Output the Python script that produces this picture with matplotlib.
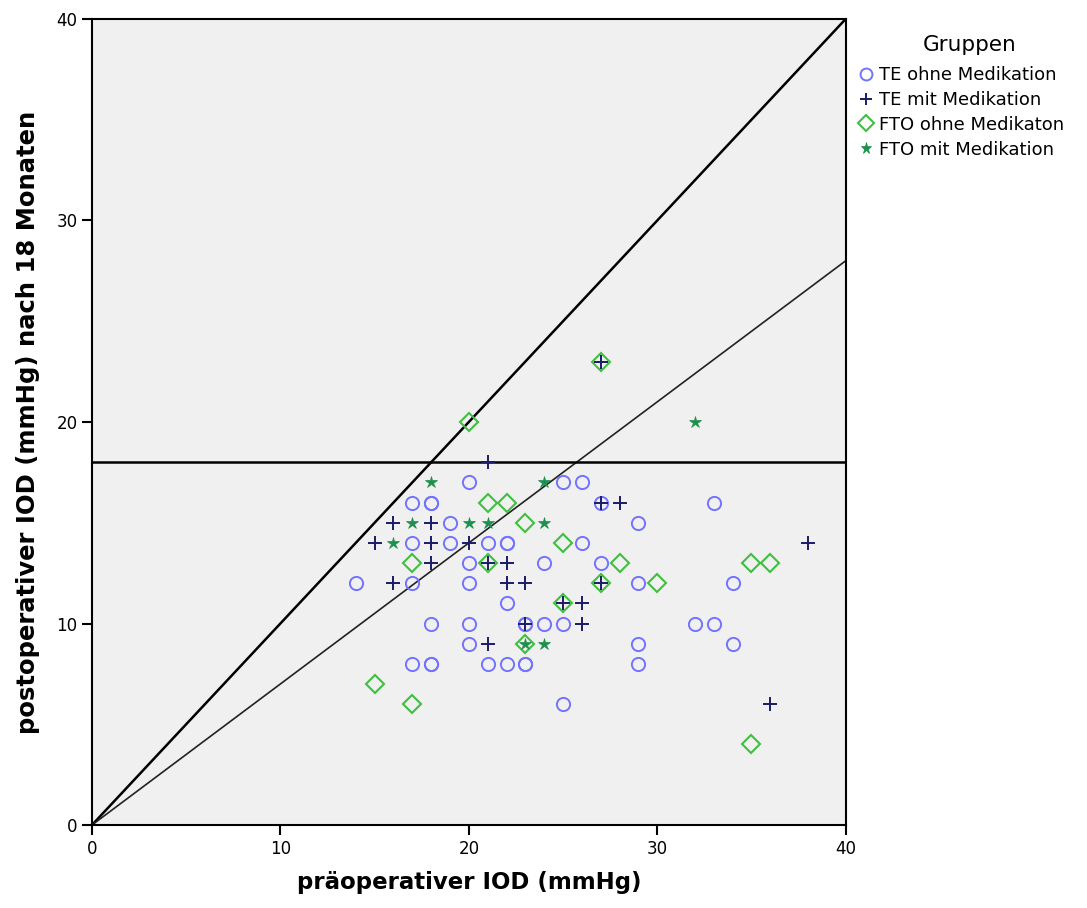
import matplotlib
matplotlib.use("Agg")
import matplotlib.pyplot as plt

# Gruppen: (präoperativ, postoperativ) in mmHg
te_ohne_x = [14, 17, 18, 18, 33, 19, 29, 17, 19, 21, 22, 22, 26, 20, 24, 27, 17, 20, 29, 34,
             22, 18, 20, 23, 23, 24, 25, 32, 33, 20, 29, 34, 17, 18, 18, 21, 22, 23, 23, 29,
             25, 20, 25, 26, 27]
te_ohne_y = [12, 16, 16, 16, 16, 15, 15, 14, 14, 14, 14, 14, 14, 13, 13, 13, 12, 12, 12, 12,
             11, 10, 10, 10, 10, 10, 10, 10, 10, 9, 9, 9, 8, 8, 8, 8, 8, 8, 8, 8,
             6, 17, 17, 17, 16]

te_mit_x = [27, 21, 28, 27, 16, 18, 15, 18, 20, 38, 18, 21, 22, 16, 22, 23, 27, 25, 26, 23,
            26, 21, 36]
te_mit_y = [23, 18, 16, 16, 15, 15, 14, 14, 14, 14, 13, 13, 13, 12, 12, 12, 12, 11, 11, 10,
            10, 9, 6]

fto_ohne_x = [27, 20, 21, 22, 23, 25, 17, 21, 28, 35, 36, 27, 30, 25, 23, 15, 17, 35]
fto_ohne_y = [23, 20, 16, 16, 15, 14, 13, 13, 13, 13, 13, 12, 12, 11, 9, 7, 6, 4]

fto_mit_x = [32, 18, 24, 17, 20, 21, 24, 16, 23, 24]
fto_mit_y = [20, 17, 17, 15, 15, 15, 15, 14, 9, 9]

gruppen = ["TE ohne Medikation", "TE mit Medikation", "FTO ohne Medikaton", "FTO mit Medikation"]

fig = plt.figure(figsize=(10.87, 9.08), dpi=100)
ax = fig.add_axes([0.0846, 0.0914, 0.6934, 0.8877])
ax.set_facecolor("#f0f0f0")

# Referenzlinien
ax.plot([0, 40], [0, 40], color="black", lw=1.8, zorder=1)
ax.plot([0, 40], [0, 28], color="#222222", lw=1.2, zorder=1)
ax.axhline(18, color="black", lw=1.8, zorder=1)

ax.plot(te_ohne_x, te_ohne_y, ls="none", marker="o", ms=9.5, mfc="none", mec="#7373ff",
        mew=1.4, label=gruppen[0], zorder=3)
ax.plot(te_mit_x, te_mit_y, ls="none", marker="+", ms=9.5, mec="#1c1c66",
        mew=1.4, label=gruppen[1], zorder=4)
ax.plot(fto_ohne_x, fto_ohne_y, ls="none", marker="D", ms=9, mfc="none", mec="#3fbf3f",
        mew=1.5, label=gruppen[2], zorder=3)
ax.plot(fto_mit_x, fto_mit_y, ls="none", marker="*", ms=9, mfc="#1e8f4e", mec="#1e8f4e",
        mew=0.5, label=gruppen[3], zorder=4)

ax.set_xlim(0, 40)
ax.set_ylim(0, 40)
ax.set_xticks([0, 10, 20, 30, 40])
ax.set_yticks([0, 10, 20, 30, 40])
ax.tick_params(direction="out", length=7, width=1.5, labelsize=12, colors="black")
for s in ax.spines.values():
    s.set_linewidth(1.5)

ax.set_xlabel("präoperativer IOD (mmHg)", fontsize=16.5, fontweight="bold", labelpad=10)
ax.set_ylabel("postoperativer IOD (mmHg) nach 18 Monaten", fontsize=17.5, fontweight="bold",
              labelpad=12)

fig.text(970 / 1087, 1 - 45 / 908, "Gruppen", fontsize=15.5, ha="center", va="center")
leg = ax.legend(loc="upper left", bbox_to_anchor=(856 / 1087, 1 - 66 / 908),
                bbox_transform=fig.transFigure, frameon=False, fontsize=13,
                handletextpad=0.15, handlelength=1.1, labelspacing=0.38, borderaxespad=0,
                borderpad=0, markerscale=0.9)

fig.savefig("out.png", dpi=100)
